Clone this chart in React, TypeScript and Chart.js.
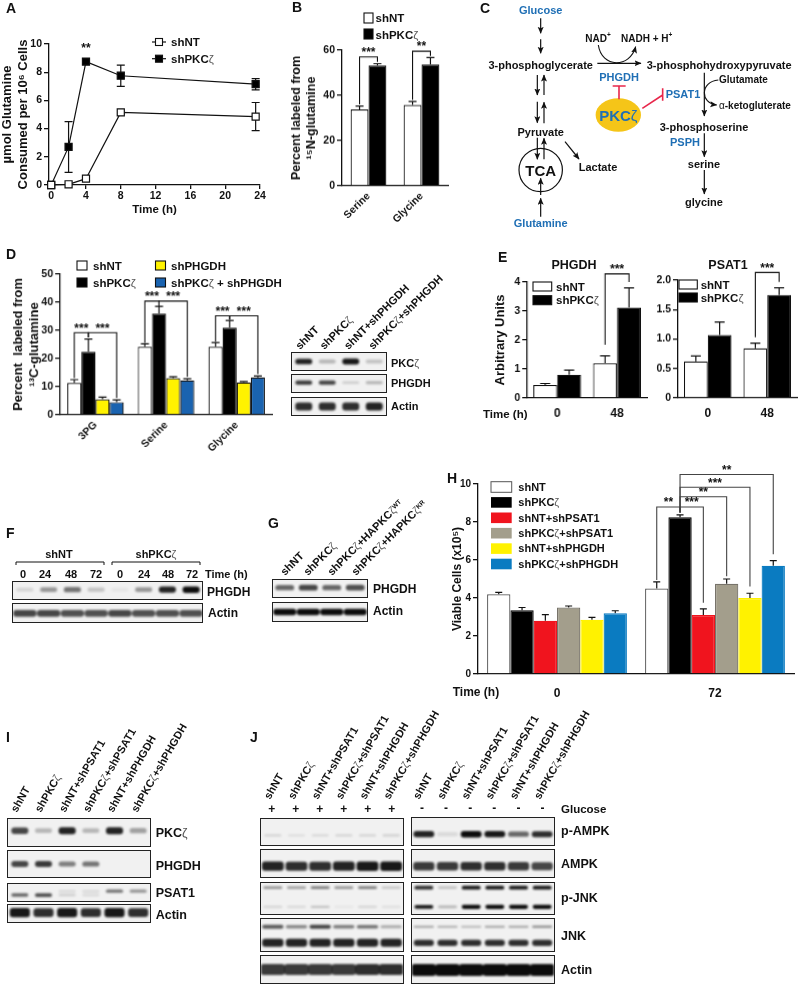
import React, { useEffect, useRef } from "react";
import { Chart, registerables } from "chart.js";

Chart.register(...registerables);
Chart.defaults.font.family = '"Liberation Sans", Arial, sans-serif';
Chart.defaults.font.weight = "bold";
Chart.defaults.color = "#111";

/* ---------- Panel A ---------- */
const aTimes = [0, 2, 4, 8, 23.5];
const aNT = [0, 0.05, 0.45, 5.15, 4.85];
const aNTErr = [0, 0, 0, 0, 1];
const aPKC = [0, 2.7, 8.75, 7.75, 7.15];
const aPKCErr = [0, 1.8, 0.2, 0.75, 0.4];
const aXTicks = [0, 4, 8, 12, 16, 20, 24];

/* ---------- Panel B ---------- */
const bCats = ["Serine", "Glycine"];
const bNT = [33.8, 35.8];
const bNTErr = [1.5, 1.5];
const bPKC = [53.2, 53.7];
const bPKCErr = [0.8, 3];

/* ---------- Panel D ---------- */
const dCats = ["3PG", "Serine", "Glycine"];
const dNT = [11.3, 24.2, 24.2];
const dNTErr = [1.2, 1, 1.5];
const dPKC = [22.4, 36, 31];
const dPKCErr = [4.5, 2.5, 2.5];
const dPHGDH = [5.5, 13, 11.5];
const dPHGDHErr = [0.8, 0.5, 0.3];
const dBoth = [4.5, 12.2, 13.3];
const dBothErr = [0.8, 0.6, 0.5];

/* ---------- Panel E ---------- */
const eCats = ["0", "48"];
const ePhNT = [0.45, 1.2];
const ePhNTErr = [0.05, 0.25];
const ePhPKC = [0.8, 3.12];
const ePhPKCErr = [0.16, 0.68];
const ePsNT = [0.62, 0.84];
const ePsNTErr = [0.09, 0.09];
const ePsPKC = [1.07, 1.75];
const ePsPKCErr = [0.22, 0.12];

/* ---------- Panel H ---------- */
const hCats = ["0", "72"];
const hNT = [4.2, 4.5];
const hNTErr = [0.1, 0.35];
const hPKC = [3.35, 8.25];
const hPKCErr = [0.15, 0.12];
const hNTPsat = [2.8, 3.1];
const hNTPsatErr = [0.33, 0.33];
const hPKCPsat = [3.5, 4.75];
const hPKCPsatErr = [0.08, 0.25];
const hNTPhgdh = [2.85, 4.0];
const hNTPhgdhErr = [0.13, 0.25];
const hPKCPhgdh = [3.2, 5.7];
const hPKCPhgdhErr = [0.13, 0.27];

/* ---------- Blot band intensities (0-1), one per lane ---------- */
const dBlotPkc = [0.9, 0.25, 0.95, 0.2];
const dBlotPhgdh = [0.8, 0.75, 0.15, 0.25];
const dBlotActin = [0.85, 0.85, 0.85, 0.9];
const fBlotPhgdh = [0.12, 0.4, 0.55, 0.2, 0.05, 0.4, 0.9, 1];
const fBlotActin = [0.75, 0.75, 0.7, 0.7, 0.75, 0.7, 0.7, 0.7];
const gBlotPhgdh = [0.6, 0.75, 0.6, 0.7];
const gBlotActin = [1, 1, 1, 1];
const iBlotPkc = [0.75, 0.25, 0.9, 0.25, 0.9, 0.35];
const iBlotPhgdh = [0.75, 0.8, 0.5, 0.55, 0, 0];
const iBlotPsatLow = [0.6, 0.7, 0.15, 0.1, 0, 0];
const iBlotPsatHigh = [0, 0, 0.1, 0.1, 0.55, 0.4];
const iBlotActin = [0.95, 0.85, 0.95, 0.85, 0.95, 0.85];
const jPlusPAmpk = [0.12, 0.08, 0.1, 0.12, 0.12, 0.15];
const jPlusAmpk = [0.9, 0.85, 0.85, 0.9, 0.95, 0.95];
const jPlusPJnkHigh = [0.4, 0.35, 0.5, 0.4, 0.5, 0.2];
const jPlusPJnkLow = [0.12, 0.1, 0.2, 0.05, 0.12, 0.08];
const jPlusJnkHigh = [0.65, 0.45, 0.75, 0.5, 0.55, 0.3];
const jPlusJnkLow = [0.9, 0.9, 0.9, 0.9, 0.9, 0.9];
const jPlusActin = [0.8, 0.8, 0.8, 0.8, 0.85, 0.85];
const jMinusPAmpk = [0.9, 0.1, 1, 0.95, 0.6, 0.85];
const jMinusAmpk = [0.8, 0.8, 0.85, 0.85, 0.8, 0.75];
const jMinusPJnkHigh = [0.85, 0.2, 0.95, 0.95, 0.95, 0.95];
const jMinusPJnkLow = [0.95, 0.25, 1, 1, 1, 1];
const jMinusJnkHigh = [0.35, 0.3, 0.25, 0.35, 0.35, 0.4];
const jMinusJnkLow = [0.85, 0.85, 0.85, 0.85, 0.85, 0.85];
const jMinusActin = [1, 1, 1, 1, 1, 1];

/* ---------- Labels ---------- */
const dLanes = ["shNT", "shPKCζ", "shNT+shPHGDH", "shPKCζ+shPHGDH"];
const sixLanes = ["shNT", "shPKCζ", "shNT+shPSAT1", "shPKCζ+shPSAT1", "shNT+shPHGDH", "shPKCζ+shPHGDH"];
const fTimes = ["0", "24", "48", "72", "0", "24", "48", "72"];
const hLegend = ["shNT", "shPKCζ", "shNT+shPSAT1", "shPKCζ+shPSAT1", "shNT+shPHGDH", "shPKCζ+shPHGDH"];
const hColors = ["#ffffff", "#000000", "#f0141e", "#a39e8c", "#fff200", "#0a7bc1"];

const BLUE = "#1f6fb5";
const INK = "#111";

/* ---------- Chart.js helpers ---------- */
type Bracket = { a: [number, number]; b: [number, number]; top: number; aLow: number; bLow: number; label: string };

function marksPlugin(opts: { cap: number; both?: boolean; brackets?: Bracket[]; notes?: any[]; bracketColor?: string }) {
  return {
    id: "marks",
    beforeDatasetsDraw(chart: any) {
      const { ctx } = chart;
      const y = chart.scales.y;
      chart.data.datasets.forEach((ds: any, i: number) => {
        if (!ds.errors) return;
        const meta = chart.getDatasetMeta(i);
        meta.data.forEach((el: any, j: number) => {
          const e = ds.errors[j];
          if (!e) return;
          const v = meta._parsed[j].y;
          const hi = y.getPixelForValue(v + e);
          const lo = opts.both ? y.getPixelForValue(v - e) : y.getPixelForValue(v);
          ctx.save();
          ctx.strokeStyle = INK;
          ctx.lineWidth = 1.2;
          ctx.beginPath();
          ctx.moveTo(el.x, lo);
          ctx.lineTo(el.x, hi);
          ctx.moveTo(el.x - opts.cap, hi);
          ctx.lineTo(el.x + opts.cap, hi);
          if (opts.both) {
            ctx.moveTo(el.x - opts.cap, lo);
            ctx.lineTo(el.x + opts.cap, lo);
          }
          ctx.stroke();
          ctx.restore();
        });
      });
    },
    afterDraw(chart: any) {
      const { ctx } = chart;
      const y = chart.scales.y;
      ctx.save();
      ctx.textAlign = "center";
      ctx.textBaseline = "middle";
      ctx.font = 'bold 12px "Liberation Sans"';
      ctx.fillStyle = INK;
      (opts.brackets || []).forEach((b) => {
        const xa = chart.getDatasetMeta(b.a[1]).data[b.a[0]].x;
        const xb = chart.getDatasetMeta(b.b[1]).data[b.b[0]].x;
        const yt = y.getPixelForValue(b.top);
        ctx.strokeStyle = opts.bracketColor || INK;
        ctx.lineWidth = 1.1;
        ctx.beginPath();
        ctx.moveTo(xa, y.getPixelForValue(b.aLow));
        ctx.lineTo(xa, yt);
        ctx.lineTo(xb, yt);
        ctx.lineTo(xb, y.getPixelForValue(b.bLow));
        ctx.stroke();
        ctx.fillText(b.label, (xa + xb) / 2, yt - 4);
      });
      (opts.notes || []).forEach((n) => {
        ctx.fillText(n.text, chart.scales.x.getPixelForValue(n.x), y.getPixelForValue(n.y));
      });
      ctx.restore();
    },
  };
}

type Frame = { l: number; t: number; r: number; b: number; L: number; T: number; R: number; B: number };

function axisOptions(f: Frame) {
  const fitW = (s: any) => {
    s.width = f.L;
  };
  const fitH = (s: any) => {
    s.height = f.B;
    s.paddingLeft = 0;
    s.paddingRight = 0;
  };
  return { fitW, fitH };
}

function yAxis(f: Frame, o: { max: number; step: number; title?: string | string[]; fs?: number; tfs?: number; fmt?: (v: number) => string }) {
  return {
    min: 0,
    max: o.max,
    afterFit: axisOptions(f).fitW,
    ticks: {
      stepSize: o.step,
      autoSkip: false,
      padding: 2,
      color: INK,
      font: { size: o.fs || 10.5, weight: "bold" },
      callback: o.fmt || ((v: number) => String(v)),
    },
    border: { color: INK, width: 1.3 },
    grid: { drawOnChartArea: false, drawTicks: true, tickLength: 5, color: INK, lineWidth: 1.3 },
    title: o.title
      ? { display: true, text: o.title, color: INK, padding: 0, font: { size: o.tfs || 13, weight: "bold" } }
      : { display: false },
  };
}

function barConfig(o: {
  frame: Frame;
  cats: string[];
  series: { label: string; values: number[]; errors: number[]; color: string; border?: string }[];
  catPct: number;
  y: any;
  cap: number;
  brackets?: Bracket[];
  rotate?: boolean;
  xFs?: number;
  xPad?: number;
  bracketColor?: string;
  borderWidth?: number;
}) {
  return {
    type: "bar",
    data: {
      labels: o.cats,
      datasets: o.series.map((s) => ({
        label: s.label,
        data: s.values,
        errors: s.errors,
        backgroundColor: s.color,
        borderColor: s.border || INK,
        borderWidth: o.borderWidth ?? 1.2,
        barPercentage: 1,
        categoryPercentage: o.catPct,
      })),
    },
    options: {
      responsive: false,
      animation: false,
      devicePixelRatio: 1,
      layout: { padding: { top: o.frame.T, right: o.frame.R, left: 0, bottom: 0 } },
      plugins: { legend: { display: false }, tooltip: { enabled: false } },
      scales: {
        x: {
          afterFit: axisOptions(o.frame).fitH,
          border: { color: INK, width: 1.3 },
          grid: { display: true, drawOnChartArea: false, drawTicks: false },
          ticks: {
            autoSkip: false,
            color: INK,
            padding: o.xPad ?? 4,
            minRotation: o.rotate ? 45 : 0,
            maxRotation: o.rotate ? 45 : 0,
            font: { size: o.xFs || 10.5, weight: "bold" },
          },
        },
        y: yAxis(o.frame, o.y),
      },
    },
    plugins: [marksPlugin({ cap: o.cap, brackets: o.brackets, bracketColor: o.bracketColor })],
  };
}

function frameStyle(f: Frame) {
  return { left: f.l - f.L, top: f.t - f.T, width: f.L + (f.r - f.l) + f.R, height: f.T + (f.b - f.t) + f.B };
}

function ChartBox({ frame, config }: { frame: Frame; config: any }) {
  const ref = useRef<HTMLCanvasElement | null>(null);
  const s = frameStyle(frame);
  useEffect(() => {
    const chart = new Chart(ref.current as any, config);
    return () => chart.destroy();
  }, []);
  return <canvas ref={ref} width={s.width} height={s.height} style={{ position: "absolute", left: s.left, top: s.top, width: s.width, height: s.height }} />;
}

/* ---------- Panels as chart configs ---------- */
const fA: Frame = { l: 49, t: 44.3, r: 260, b: 185.3, L: 49, T: 20, R: 12, B: 32 };
const fB: Frame = { l: 341.5, t: 50, r: 447.5, b: 185.7, L: 53, T: 20, R: 10, B: 45 };
const fD: Frame = { l: 60, t: 274.3, r: 271.5, b: 415, L: 49, T: 20, R: 10, B: 45 };
const fE1: Frame = { l: 527, t: 282, r: 646.5, b: 398.3, L: 34, T: 20, R: 2, B: 28 };
const fE2: Frame = { l: 678, t: 280, r: 797, b: 397.5, L: 30, T: 20, R: 2, B: 28 };
const fH: Frame = { l: 478, t: 484, r: 794, b: 674, L: 28, T: 22, R: 5, B: 30 };

const cfgA = {
  type: "line",
  data: {
    datasets: [
      {
        label: "shNT",
        data: aTimes.map((t, i) => ({ x: t, y: aNT[i] })),
        errors: aNTErr,
        borderColor: INK,
        borderWidth: 1.2,
        pointStyle: "rect",
        pointRadius: 5,
        pointBackgroundColor: "#fff",
        pointBorderColor: INK,
        pointBorderWidth: 1.2,
      },
      {
        label: "shPKCζ",
        data: aTimes.map((t, i) => ({ x: t, y: aPKC[i] })),
        errors: aPKCErr,
        borderColor: INK,
        borderWidth: 1.2,
        pointStyle: "rect",
        pointRadius: 5,
        pointBackgroundColor: "#000",
        pointBorderColor: INK,
        pointBorderWidth: 1.2,
      },
    ],
  },
  options: {
    responsive: false,
    animation: false,
    devicePixelRatio: 1,
    clip: false,
    layout: { padding: { top: fA.T, right: fA.R, left: 0, bottom: 0 } },
    plugins: { legend: { display: false }, tooltip: { enabled: false } },
    scales: {
      x: {
        type: "linear",
        min: -0.25,
        max: 24,
        afterFit: axisOptions(fA).fitH,
        afterBuildTicks: (s: any) => {
          s.ticks = aXTicks.map((v) => ({ value: v }));
        },
        border: { color: INK, width: 1.3 },
        grid: { drawOnChartArea: false, drawTicks: true, tickLength: 4, color: INK, lineWidth: 1.3 },
        ticks: { autoSkip: false, maxRotation: 0, padding: 1, color: INK, font: { size: 10.5, weight: "bold" } },
        title: { display: true, text: "Time (h)", color: INK, padding: 0, font: { size: 11.5, weight: "bold" } },
      },
      y: yAxis(fA, { max: 10, step: 2, title: ["µmol Glutamine", "Consumed per 10⁶ Cells"], tfs: 13 }),
    },
  },
  plugins: [marksPlugin({ cap: 4, both: true, notes: [{ x: 4, y: 9.7, text: "**" }] })],
};

const cfgB = barConfig({
  frame: fB,
  cats: bCats,
  series: [
    { label: "shNT", values: bNT, errors: bNTErr, color: "#fff" },
    { label: "shPKCζ", values: bPKC, errors: bPKCErr, color: "#000" },
  ],
  catPct: 0.675,
  cap: 4,
  rotate: true,
  y: { max: 60, step: 20, title: ["Percent labeled from", "¹⁵N-glutamine"], tfs: 12.5 },
  brackets: [
    { a: [0, 0], b: [0, 1], top: 57, aLow: 36, bLow: 54.8, label: "***" },
    { a: [1, 0], b: [1, 1], top: 59.5, aLow: 38, bLow: 57.5, label: "**" },
  ],
});

const cfgD = barConfig({
  frame: fD,
  cats: dCats,
  series: [
    { label: "shNT", values: dNT, errors: dNTErr, color: "#fff" },
    { label: "shPKCζ", values: dPKC, errors: dPKCErr, color: "#000" },
    { label: "shPHGDH", values: dPHGDH, errors: dPHGDHErr, color: "#fff200" },
    { label: "shPKCζ + shPHGDH", values: dBoth, errors: dBothErr, color: "#1a63b0" },
  ],
  catPct: 0.8,
  cap: 4,
  rotate: true,
  y: { max: 50, step: 10, title: ["Percent  labeled from", "¹³C-glutamine"], tfs: 13 },
  brackets: [
    { a: [0, 0], b: [0, 1], top: 29.2, aLow: 13, bLow: 27.5, label: "***" },
    { a: [0, 1], b: [0, 3], top: 29.2, aLow: 27.5, bLow: 6, label: "***" },
    { a: [1, 0], b: [1, 1], top: 40.4, aLow: 25.5, bLow: 38.7, label: "***" },
    { a: [1, 1], b: [1, 3], top: 40.4, aLow: 38.7, bLow: 13.5, label: "***" },
    { a: [2, 0], b: [2, 1], top: 35.2, aLow: 26, bLow: 33.8, label: "***" },
    { a: [2, 1], b: [2, 3], top: 35.2, aLow: 33.8, bLow: 14.5, label: "***" },
  ],
});

const cfgE1 = barConfig({
  frame: fE1,
  cats: eCats,
  series: [
    { label: "shNT", values: ePhNT, errors: ePhNTErr, color: "#fff" },
    { label: "shPKCζ", values: ePhPKC, errors: ePhPKCErr, color: "#000" },
  ],
  catPct: 0.8,
  cap: 5,
  xPad: 8,
  xFs: 12,
  y: { max: 4, step: 1, title: "Arbitrary Units", tfs: 13 },
  brackets: [{ a: [1, 0], b: [1, 1], top: 4.28, aLow: 1.84, bLow: 4.0, label: "***" }],
});

const cfgE2 = barConfig({
  frame: fE2,
  cats: eCats,
  series: [
    { label: "shNT", values: ePsNT, errors: ePsNTErr, color: "#fff" },
    { label: "shPKCζ", values: ePsPKC, errors: ePsPKCErr, color: "#000" },
  ],
  catPct: 0.8,
  cap: 5,
  xPad: 8,
  xFs: 12,
  y: { max: 2, step: 0.5, fmt: (v: number) => (v === 0 ? "0" : v.toFixed(1)) },
  brackets: [{ a: [1, 0], b: [1, 1], top: 2.13, aLow: 1.03, bLow: 1.97, label: "***" }],
});

const hSeries = [
  { label: hLegend[0], values: hNT, errors: hNTErr, color: hColors[0], border: "#555" },
  { label: hLegend[1], values: hPKC, errors: hPKCErr, color: hColors[1], border: hColors[1] },
  { label: hLegend[2], values: hNTPsat, errors: hNTPsatErr, color: hColors[2], border: hColors[2] },
  { label: hLegend[3], values: hPKCPsat, errors: hPKCPsatErr, color: hColors[3], border: "#77736a" },
  { label: hLegend[4], values: hNTPhgdh, errors: hNTPhgdhErr, color: hColors[4], border: hColors[4] },
  { label: hLegend[5], values: hPKCPhgdh, errors: hPKCPhgdhErr, color: hColors[5], border: hColors[5] },
];

const cfgH = barConfig({
  frame: fH,
  cats: hCats,
  series: hSeries,
  catPct: 0.885,
  cap: 3.5,
  xPad: 12,
  xFs: 12,
  bracketColor: "#444",
  y: { max: 10, step: 2, title: "Viable Cells (x10⁵)", tfs: 12, fs: 10 },
  brackets: [
    { a: [1, 1], b: [1, 5], top: 10.5, aLow: 8.5, bLow: 6.3, label: "**" },
    { a: [1, 1], b: [1, 3], top: 9.33, aLow: 8.5, bLow: 5.15, label: "**" },
    { a: [1, 1], b: [1, 4], top: 9.83, aLow: 8.5, bLow: 4.6, label: "***" },
    { a: [1, 0], b: [1, 1], top: 8.79, aLow: 4.95, bLow: 8.5, label: "**" },
    { a: [1, 1], b: [1, 2], top: 8.79, aLow: 8.5, bLow: 3.75, label: "***" },
  ],
});

/* ---------- Blots, one small Chart.js bar chart per membrane strip ---------- */
type Band = { v: number[]; c: number; t: number };

function Blot({ x, y, w, h, bands, pct = 0.72 }: { x: number; y: number; w: number; h: number; bands: Band[]; pct?: number }) {
  const ref = useRef<HTMLCanvasElement | null>(null);
  useEffect(() => {
    const chart = new Chart(ref.current as any, {
      type: "bar",
      data: {
        labels: bands[0].v.map((_, i) => String(i + 1)),
        datasets: bands.map((b) => ({
          data: b.v.map((i) => {
            const half = (b.t * (0.55 + 0.45 * i)) / 2;
            return [b.c - half, b.c + half];
          }),
          backgroundColor: b.v.map((i) => `rgba(12,12,12,${i})`),
          grouped: false,
          barPercentage: pct,
          categoryPercentage: 1,
          borderRadius: 3,
          borderSkipped: false,
        })),
      },
      options: {
        responsive: false,
        animation: false,
        devicePixelRatio: 1,
        layout: { padding: 0 },
        plugins: { legend: { display: false }, tooltip: { enabled: false } },
        scales: { x: { display: false }, y: { display: false, min: 0, max: 1 } },
      },
    } as any);
    return () => chart.destroy();
  }, []);
  const iw = Math.round(w - 2);
  const ih = Math.round(h - 2);
  return (
    <div style={{ position: "absolute", left: x, top: y, width: w, height: h, boxSizing: "border-box", border: "1.2px solid #222", background: "#f1f1f1", overflow: "hidden" }}>
      <canvas ref={ref} width={iw} height={ih} style={{ width: iw, height: ih, display: "block", filter: "blur(0.9px)" }} />
    </div>
  );
}

/* ---------- SVG text helpers ---------- */
function T({ x, y, s = 11, a = "start", fill = INK, rot, children }: any) {
  const parts = typeof children === "string" ? children.split(/(ζ)/) : null;
  return (
    <text
      x={x}
      y={y}
      fontSize={s}
      fontWeight="bold"
      textAnchor={a}
      fill={fill}
      dominantBaseline={rot ? "auto" : "central"}
      transform={rot ? `rotate(${rot} ${x} ${y})` : undefined}
    >
      {parts
        ? parts.map((p: string, i: number) =>
            p === "ζ" ? (
              <tspan key={i} fontWeight="normal" fill={fill === INK ? "#555" : fill}>
                ζ
              </tspan>
            ) : (
              <tspan key={i}>{p}</tspan>
            )
          )
        : children}
    </text>
  );
}

function Arrow({ x1, y1, x2, y2 }: any) {
  return <line x1={x1} y1={y1} x2={x2} y2={y2} stroke={INK} strokeWidth={1.2} markerEnd="url(#ah)" />;
}

/* coordinates of pathway arrows, given as zoomed offsets from the panel origin */
const cx = (v: number) => 470 + v / 3;
const cy = (v: number) => v / 3;
const pathwayArrows = [
  [212, 55, 212, 100],
  [212, 118, 212, 160],
  [202, 225, 202, 285],
  [222, 285, 222, 225],
  [202, 305, 202, 368],
  [222, 370, 222, 307],
  [202, 413, 202, 478],
  [222, 478, 222, 415],
  [212, 650, 212, 595],
  [212, 585, 212, 535],
  [285, 425, 327, 477],
  [382, 190, 513, 190],
  [703, 218, 703, 348],
  [703, 400, 703, 470],
  [703, 510, 703, 582],
];

function Swatch({ x, y, w, h, fill }: any) {
  return <rect x={x} y={y} width={w} height={h} fill={fill} stroke={INK} strokeWidth={1.1} />;
}

function Overlay() {
  return (
    <svg width={800} height={985} style={{ position: "absolute", left: 0, top: 0, pointerEvents: "none", fontFamily: '"Liberation Sans", Arial, sans-serif' }}>
      <defs>
        <marker id="ah" markerWidth="8" markerHeight="8" refX="6.5" refY="3" orient="auto" markerUnits="userSpaceOnUse">
          <path d="M0,0 L7,3 L0,6 L1.5,3 Z" fill={INK} />
        </marker>
      </defs>

      {/* panel letters */}
      <T x={6} y={8} s={14}>A</T>
      <T x={292} y={7} s={14}>B</T>
      <T x={480} y={8} s={14}>C</T>
      <T x={6} y={254} s={14}>D</T>
      <T x={498} y={257} s={14}>E</T>
      <T x={6} y={533} s={14}>F</T>
      <T x={268} y={523} s={14}>G</T>
      <T x={447} y={478} s={14}>H</T>
      <T x={6} y={737} s={14}>I</T>
      <T x={250} y={737} s={14}>J</T>

      {/* legend A */}
      <line x1={152} y1={42} x2={166} y2={42} stroke={INK} strokeWidth={1.2} />
      <Swatch x={155.5} y={38.5} w={7} h={7} fill="#fff" />
      <line x1={152} y1={58.7} x2={166} y2={58.7} stroke={INK} strokeWidth={1.2} />
      <Swatch x={155.5} y={55.2} w={7} h={7} fill="#000" />
      <T x={171} y={42} s={11.5}>shNT</T>
      <T x={171} y={59} s={11.5}>shPKCζ</T>

      {/* legend B */}
      <Swatch x={364} y={13} w={9} h={10} fill="#fff" />
      <Swatch x={364} y={29} w={9} h={10} fill="#000" />
      <T x={375.5} y={18} s={11.5}>shNT</T>
      <T x={375.5} y={35} s={11.5}>shPKCζ</T>

      {/* pathway C */}
      <T x={540.7} y={10} a="middle" fill={BLUE}>Glucose</T>
      <T x={540.7} y={65} a="middle">3-phosphoglycerate</T>
      <T x={646.7} y={65}>3-phosphohydroxypyruvate</T>
      <T x={598} y={38} a="middle" s={10}>
        NAD<tspan baselineShift="super" fontSize={6.5}>+</tspan>
      </T>
      <T x={646.7} y={38} a="middle" s={10}>
        NADH + H<tspan baselineShift="super" fontSize={6.5}>+</tspan>
      </T>
      <T x={619} y={77} a="middle" fill={BLUE}>PHGDH</T>
      <T x={683} y={93.7} a="middle" fill={BLUE}>PSAT1</T>
      <T x={685} y={141.7} a="middle" fill={BLUE}>PSPH</T>
      <ellipse cx={618.3} cy={115} rx={22.7} ry={16.7} fill="#f5c518" />
      <T x={618.3} y={115} a="middle" s={15} fill={BLUE}>PKCζ</T>
      <T x={719} y={79} s={10}>Glutamate</T>
      <text x={719} y={105} fontSize={10} fontWeight="bold" fill={INK} dominantBaseline="central">
        <tspan fontWeight="normal">α</tspan>-ketogluterate
      </text>
      <T x={704} y={126.7} a="middle">3-phosphoserine</T>
      <T x={704} y={163.7} a="middle">serine</T>
      <T x={704} y={202} a="middle">glycine</T>
      <T x={540.7} y={131.7} a="middle">Pyruvate</T>
      <circle cx={540.7} cy={170} r={21.7} fill="none" stroke={INK} strokeWidth={1.2} />
      <T x={540.7} y={170} a="middle" s={15}>TCA</T>
      <T x={598} y={166.7} a="middle">Lactate</T>
      <T x={540.7} y={222.7} a="middle" fill={BLUE}>Glutamine</T>
      {pathwayArrows.map((p, i) => (
        <Arrow key={i} x1={cx(p[0])} y1={cy(p[1])} x2={cx(p[2])} y2={cy(p[3])} />
      ))}
      <path d={`M${cx(385)},${cy(135)} C${cx(395)},${cy(205)} ${cx(480)},${cy(205)} ${cx(497)},${cy(140)}`} fill="none" stroke={INK} strokeWidth={1.1} markerEnd="url(#ah)" />
      <path d={`M${cx(745)},${cy(240)} C${cx(690)},${cy(245)} ${cx(690)},${cy(310)} ${cx(740)},${cy(315)}`} fill="none" stroke={INK} strokeWidth={1.1} markerEnd="url(#ah)" />
      <path d={`M${cx(447)},${cy(298)} L${cx(447)},${cy(258)} M${cx(428)},${cy(258)} L${cx(467)},${cy(258)}`} fill="none" stroke="#e8274b" strokeWidth={1.6} />
      <path d={`M${cx(517)},${cy(325)} L${cx(578)},${cy(285)} M${cx(578)},${cy(265)} L${cx(578)},${cy(302)}`} fill="none" stroke="#e8274b" strokeWidth={1.6} />

      {/* legend D */}
      <Swatch x={77} y={261} w={10} h={9} fill="#fff" />
      <Swatch x={77} y={278} w={10} h={9} fill="#000" />
      <Swatch x={155.5} y={261} w={10} h={9} fill="#fff200" />
      <Swatch x={155.5} y={278} w={10} h={9} fill="#1a63b0" />
      <T x={93} y={265.7} s={11.5}>shNT</T>
      <T x={93} y={282.7} s={11.5}>shPKCζ</T>
      <T x={171} y={265.7} s={11.5}>shPHGDH</T>
      <T x={171} y={282.7} s={11.5}>shPKCζ + shPHGDH</T>

      {/* blot D labels */}
      {dLanes.map((l, i) => (
        <T key={l} x={300 + i * 24.3} y={350} rot={-45}>{l}</T>
      ))}
      <T x={391} y={362.7}>PKCζ</T>
      <T x={391} y={382.7}>PHGDH</T>
      <T x={391} y={405.7}>Actin</T>

      {/* legend E */}
      <Swatch x={533} y={282} w={18.7} h={9} fill="#fff" />
      <Swatch x={533} y={295.7} w={18.7} h={9} fill="#000" />
      <T x={556} y={287} s={11.5}>shNT</T>
      <T x={556} y={300} s={11.5}>shPKCζ</T>
      <Swatch x={679} y={280} w={18.3} h={9} fill="#fff" />
      <Swatch x={679} y={293} w={18.3} h={9} fill="#000" />
      <T x={700.7} y={285} s={11.5}>shNT</T>
      <T x={700.7} y={298} s={11.5}>shPKCζ</T>
      <T x={574} y={265} a="middle" s={12.5}>PHGDH</T>
      <T x={728} y={265} a="middle" s={12.5}>PSAT1</T>
      <T x={483} y={414} s={11.5}>Time (h)</T>

      {/* F labels */}
      <T x={59} y={554} a="middle" s={11}>shNT</T>
      <T x={156} y={554} a="middle" s={11}>shPKCζ</T>
      <path d="M16,565 V562 H104 V565 M112,565 V562 H200 V565" fill="none" stroke={INK} strokeWidth={1} />
      {fTimes.map((t, i) => (
        <T key={i} x={[23, 45, 71, 96, 120, 144, 168, 192][i]} y={574} a="middle" s={11}>{t}</T>
      ))}
      <T x={205} y={574} s={11}>Time (h)</T>
      <T x={207} y={591.5} s={12}>PHGDH</T>
      <T x={208} y={613} s={12}>Actin</T>

      {/* G labels */}
      <T x={285} y={576} rot={-45}>shNT</T>
      <T x={308} y={576} rot={-45}>shPKCζ</T>
      <T x={332} y={576} rot={-45}>
        shPKC<tspan fontWeight="normal" fill="#555">ζ</tspan>+HAPKC<tspan fontWeight="normal" fill="#555">ζ</tspan>
        <tspan baselineShift="super" fontSize={6.5}>WT</tspan>
      </T>
      <T x={356} y={576} rot={-45}>
        shPKC<tspan fontWeight="normal" fill="#555">ζ</tspan>+HAPKC<tspan fontWeight="normal" fill="#555">ζ</tspan>
        <tspan baselineShift="super" fontSize={6.5}>KR</tspan>
      </T>
      <T x={373} y={589} s={12}>PHGDH</T>
      <T x={373} y={611} s={12}>Actin</T>

      {/* legend H */}
      {hLegend.map((l, i) => (
        <g key={l}>
          <rect x={491} y={481.7 + i * 15.4} width={20.7} height={10.6} fill={hColors[i]} stroke={i === 0 ? "#555" : "none"} strokeWidth={1} />
          <T x={518.3} y={487 + i * 15.3} s={11}>{l}</T>
        </g>
      ))}
      <T x={452.7} y={692} s={12}>Time (h)</T>

      {/* I labels */}
      {sixLanes.map((l, i) => (
        <T key={l} x={16.7 + i * 24.1} y={813} rot={-60}>{l}</T>
      ))}
      <T x={155.7} y={833} s={12.5}>PKCζ</T>
      <T x={155.7} y={865.7} s={12.5}>PHGDH</T>
      <T x={155.7} y={893} s={12.5}>PSAT1</T>
      <T x={155.7} y={915} s={12.5}>Actin</T>

      {/* J labels */}
      {sixLanes.map((l, i) => (
        <T key={"p" + l} x={270 + i * 23.9} y={800} rot={-60}>{l}</T>
      ))}
      {sixLanes.map((l, i) => (
        <T key={"m" + l} x={419 + i * 24.2} y={800} rot={-60}>{l}</T>
      ))}
      {sixLanes.map((l, i) => (
        <T key={"+" + l} x={271.7 + i * 24} y={808.5} a="middle" s={12}>+</T>
      ))}
      {sixLanes.map((l, i) => (
        <T key={"-" + l} x={422 + i * 24.1} y={808} a="middle" s={12}>-</T>
      ))}
      <T x={561} y={809} s={11.5}>Glucose</T>
      <T x={561} y={830.7} s={12.5}>p-AMPK</T>
      <T x={561} y={864} s={12.5}>AMPK</T>
      <T x={561} y={898} s={12.5}>p-JNK</T>
      <T x={561} y={935.7} s={12.5}>JNK</T>
      <T x={561} y={970} s={12.5}>Actin</T>
    </svg>
  );
}

export default function App() {
  return (
    <div style={{ position: "absolute", left: 0, top: 0, width: 800, height: 985, overflow: "hidden", background: "#fff" }}>
      <ChartBox frame={fA} config={cfgA} />
      <ChartBox frame={fB} config={cfgB} />
      <ChartBox frame={fD} config={cfgD} />
      <ChartBox frame={fE1} config={cfgE1} />
      <ChartBox frame={fE2} config={cfgE2} />
      <ChartBox frame={fH} config={cfgH} />

      <Blot x={290.7} y={352.3} w={96} h={19} bands={[{ v: dBlotPkc, c: 0.5, t: 0.35 }]} />
      <Blot x={290.7} y={374.3} w={96} h={19} bands={[{ v: dBlotPhgdh, c: 0.55, t: 0.28 }]} />
      <Blot x={290.7} y={396.7} w={96} h={19} bands={[{ v: dBlotActin, c: 0.5, t: 0.5 }]} />

      <Blot x={11.7} y={581} w={191.5} h={19} bands={[{ v: fBlotPhgdh, c: 0.55, t: 0.38 }]} />
      <Blot x={11.7} y={603.3} w={191.5} h={19.4} bands={[{ v: fBlotActin, c: 0.45, t: 0.45 }]} pct={0.98} />

      <Blot x={272} y={579} w={96} h={19} bands={[{ v: gBlotPhgdh, c: 0.55, t: 0.38 }]} pct={0.8} />
      <Blot x={272} y={602} w={96} h={19.7} bands={[{ v: gBlotActin, c: 0.5, t: 0.35 }]} pct={0.98} />

      <Blot x={6.7} y={818.3} w={144} h={28.4} bands={[{ v: iBlotPkc, c: 0.55, t: 0.28 }]} />
      <Blot x={6.7} y={850} w={144} h={28} bands={[{ v: iBlotPhgdh, c: 0.5, t: 0.25 }]} />
      <Blot x={6.7} y={882.7} w={144} h={19} bands={[{ v: iBlotPsatLow, c: 0.35, t: 0.25 }, { v: iBlotPsatHigh, c: 0.58, t: 0.25 }]} />
      <Blot x={6.7} y={904.3} w={144} h={19} bands={[{ v: iBlotActin, c: 0.55, t: 0.55 }]} pct={0.85} />

      <Blot x={260} y={817.7} w={144} h={28.3} bands={[{ v: jPlusPAmpk, c: 0.37, t: 0.15 }]} />
      <Blot x={260} y={849.3} w={144} h={28.7} bands={[{ v: jPlusAmpk, c: 0.4, t: 0.36 }]} pct={0.92} />
      <Blot x={260} y={881.7} w={144} h={33.3} bands={[{ v: jPlusPJnkHigh, c: 0.85, t: 0.12 }, { v: jPlusPJnkLow, c: 0.23, t: 0.12 }]} pct={0.8} />
      <Blot x={260} y={918.3} w={144} h={33.4} bands={[{ v: jPlusJnkHigh, c: 0.75, t: 0.15 }, { v: jPlusJnkLow, c: 0.23, t: 0.27 }]} pct={0.9} />
      <Blot x={260} y={955.3} w={144} h={29} bands={[{ v: jPlusActin, c: 0.5, t: 0.42 }]} pct={1} />

      <Blot x={410.7} y={817.3} w={144.3} h={28.7} bands={[{ v: jMinusPAmpk, c: 0.4, t: 0.24 }]} pct={0.88} />
      <Blot x={410.7} y={849.3} w={144.3} h={29} bands={[{ v: jMinusAmpk, c: 0.4, t: 0.34 }]} pct={0.9} />
      <Blot x={410.7} y={881.7} w={144.3} h={33.3} bands={[{ v: jMinusPJnkHigh, c: 0.85, t: 0.13 }, { v: jMinusPJnkLow, c: 0.23, t: 0.13 }]} pct={0.8} />
      <Blot x={410.7} y={918.3} w={144.3} h={33.4} bands={[{ v: jMinusJnkHigh, c: 0.75, t: 0.1 }, { v: jMinusJnkLow, c: 0.23, t: 0.22 }]} pct={0.85} />
      <Blot x={410.7} y={955} w={144.3} h={29.3} bands={[{ v: jMinusActin, c: 0.48, t: 0.42 }]} pct={1} />

      <Overlay />
    </div>
  );
}
